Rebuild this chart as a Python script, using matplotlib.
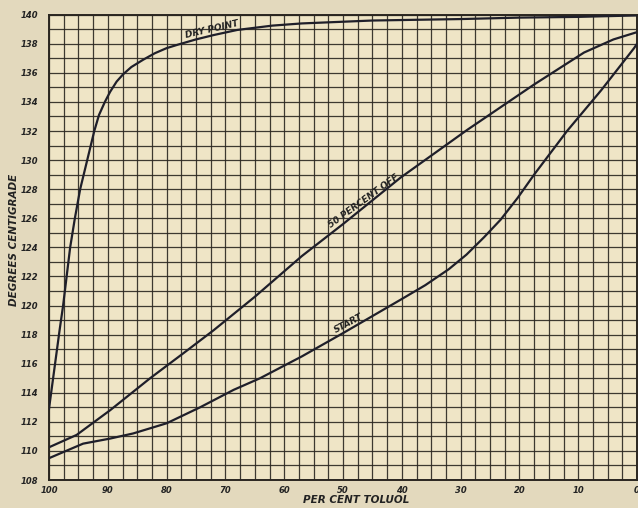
import matplotlib
matplotlib.use("Agg")
import matplotlib.pyplot as plt
import numpy as np

# ---- data (percent toluol, degrees centigrade) ----
dry_pct = [100, 99.0, 98.2, 97.6, 97.0, 96.4, 95.6, 94.7, 93.5, 92.3, 91.5, 90.5, 89.6, 88.5,
           87.4, 86.0, 84.0, 82.0, 80.0, 78.0, 75.0, 72.0, 68.0, 62.0, 57.0, 45.0, 30.0, 20.0,
           10.0, 0.0]
dry_temp = [112.9, 115.9, 118.3, 120.0, 122.0, 124.0, 126.0, 128.0, 130.0, 132.0, 133.1, 134.0,
            134.7, 135.4, 135.9, 136.4, 136.9, 137.35, 137.7, 137.95, 138.3, 138.6, 138.95, 139.25,
            139.4, 139.6, 139.7, 139.8, 139.85, 139.95]

half_pct = [100, 95.3, 89.6, 82.8, 77.2, 72.0, 65.0, 57.0, 50.0, 40.2, 28.8, 17.5, 9.0, 4.0, 0.0]
half_temp = [110.25, 111.1, 112.8, 115.0, 116.7, 118.3, 120.6, 123.4, 125.6, 128.8, 132.1, 135.2,
             137.4, 138.3, 138.8]

start_pct = [100, 94.2, 89.6, 85.7, 80.0, 74.3, 68.6, 64.1, 57.0, 50.0, 40.2, 36.0, 32.0, 29.0,
             26.0, 23.2, 20.3, 17.5, 14.7, 11.9, 9.0, 6.1, 3.2, 0.5, 0.0]
start_temp = [109.5, 110.5, 110.85, 111.2, 111.9, 113.0, 114.2, 115.0, 116.5, 118.1, 120.4,
              121.4, 122.5, 123.5, 124.7, 125.9, 127.4, 129.0, 130.5, 132.0, 133.4, 134.8,
              136.3, 137.7, 138.0]

x_ticks = [100, 90, 80, 70, 60, 50, 40, 30, 20, 10, 0]
y_ticks = list(range(108, 141, 2))

# curve labels: (text, anchor pct, anchor temp on curve, angle, offset px)
curve_labels = [("DRY POINT", 72.0, 138.6, 13, 6),
                ("50 PERCENT OFF", 45.7, 126.8, 36, 7),
                ("START", 48.6, 118.4, 28, 6)]

paper = "#e3d9bd"
cell = "#efe5c6"
ink = "#2a2620"
curve = "#1f1f2a"
lab = "#222222"

fig = plt.figure(figsize=(6.38, 5.08), dpi=100, facecolor=paper)
ax = fig.add_axes([49/638, 1 - 480/508, 588/638, (480 - 14.7)/508])
ax.set_facecolor(cell)
ax.set_xlim(100, 0)
ax.set_ylim(108, 140)

# graph-paper grid (keep minor lines even where major ticks sit)
ax.xaxis.remove_overlapping_locs = False
ax.yaxis.remove_overlapping_locs = False
ax.set_xticks(np.arange(0, 100.01, 2.5), minor=True)
ax.set_yticks(np.arange(108, 140.01, 1), minor=True)
ax.grid(which="minor", color=ink, linewidth=0.9, alpha=0.9)
ax.grid(which="major", visible=False)
ax.set_axisbelow(True)
ax.tick_params(which="both", length=0)

ax.set_xticks(x_ticks)
ax.set_xticklabels([str(v) for v in x_ticks], fontsize=6, style="italic", weight="bold", color=lab)
ax.set_yticks(y_ticks)
ax.set_yticklabels([str(v) for v in y_ticks], fontsize=6, style="italic", weight="bold", color=lab)
ax.tick_params(axis="x", pad=4)
ax.tick_params(axis="y", pad=8)
for s in ax.spines.values():
    s.set_color(ink)
    s.set_linewidth(1.4)

for xs, ys in [(dry_pct, dry_temp), (half_pct, half_temp), (start_pct, start_temp)]:
    ax.plot(xs, ys, color=curve, linewidth=1.6, solid_joinstyle="round", zorder=3)

for txt, px, py, ang, off in curve_labels:
    th = np.deg2rad(ang)
    ax.annotate(txt, (px, py), xytext=(-np.sin(th) * off, np.cos(th) * off),
                textcoords="offset pixels", rotation=ang, fontsize=6.5, style="italic",
                weight="bold", ha="center", va="center", color=lab, zorder=4)

fig.text(356/638, 1 - 500/508, "PER CENT TOLUOL", fontsize=7.5, style="italic", weight="bold",
         ha="center", va="center", color=lab)
fig.text(14/638, 1 - 240/508, "DEGREES CENTIGRADE", fontsize=7.5, style="italic", weight="bold",
         rotation=90, ha="center", va="center", color=lab)

fig.savefig("out.png", dpi=100, facecolor=paper)
